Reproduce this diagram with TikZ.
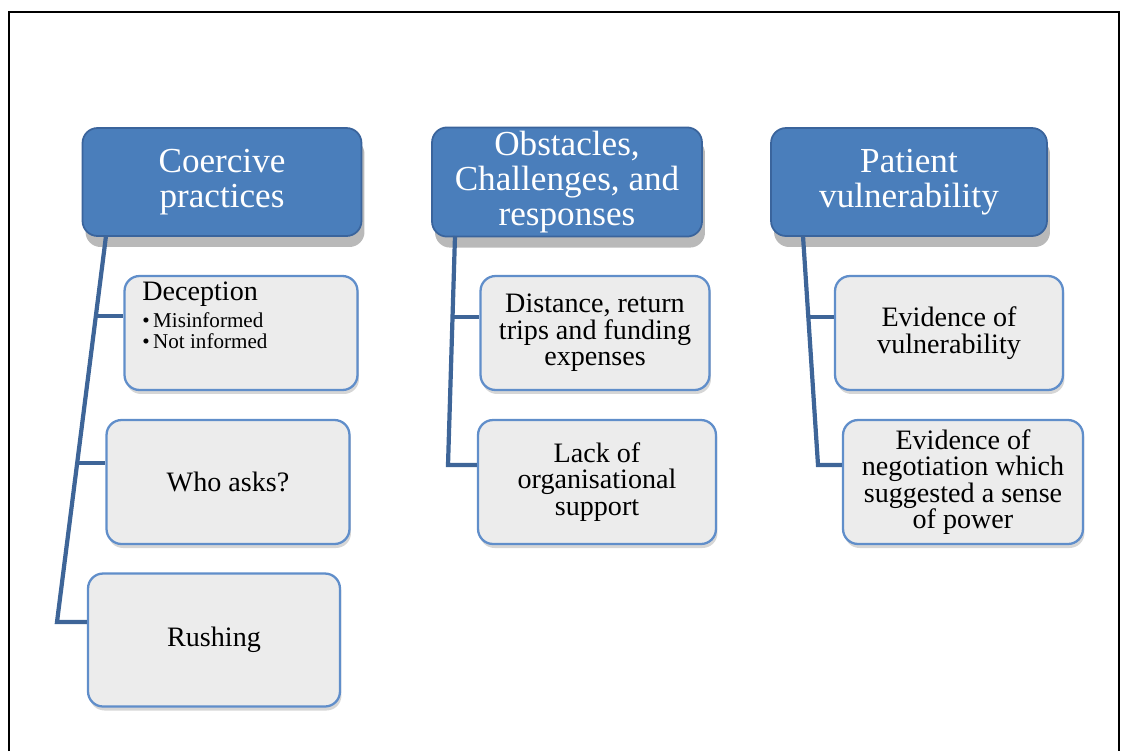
\documentclass[tikz,border=0pt]{standalone}
\usepackage{fontspec}
\setmainfont{Liberation Serif}
\usepackage{tikz}
\usetikzlibrary{calc}
\usetikzlibrary{shadows}
\definecolor{headblue}{RGB}{74,126,187}
\definecolor{headedge}{RGB}{58,100,156}
\definecolor{trunkblue}{RGB}{62,101,152}
\definecolor{itemedge}{RGB}{96,142,202}
\definecolor{itemfill}{RGB}{236,236,236}

\begin{document}
\begin{tikzpicture}[x=0.02cm, y=-0.02cm,
        headbox/.style={draw=headedge, line width=1pt, fill=headblue, rounded corners=0.3cm,
            text=white, align=center, minimum height=2.16cm, inner sep=2pt,
            font=\fontsize{20}{20}\selectfont,
            drop shadow={shadow xshift=0.06cm, shadow yshift=-0.22cm, fill=black!50, opacity=0.55}},
        itembox/.style={draw=itemedge, line width=1.3pt, fill=itemfill, rounded corners=0.3cm,
            align=center, inner sep=2pt, font=\fontsize{16}{15}\selectfont,
            drop shadow={shadow xshift=0.03cm, shadow yshift=-0.08cm, fill=black!40, opacity=0.4}},
        trunk/.style={draw=trunkblue, line width=2.4pt}]
        \useasboundingbox (0,0) rectangle (1121,751);

        % frame
        \draw[line width=1.2pt] (9,751) -- (9,12) -- (1119,12) -- (1119,751);

        \node[headbox, minimum width=5.58cm] (H1) at (222,182) {Coercive\\practices};
        \node[headbox, minimum width=5.4cm] (H2) at (567,182) {Obstacles,\\Challenges, and\\responses};
        \node[headbox, minimum width=5.52cm] (H3) at (909,182) {Patient\\vulnerability};

        \node[itembox, minimum width=4.66cm, minimum height=2.28cm] (C11) at (241,333) {};
        \node[itembox, minimum width=4.86cm, minimum height=2.48cm] (C12) at (228,482) {Who asks?};
        \node[itembox, minimum width=5.04cm, minimum height=2.66cm] (C13) at (214,640) {Rushing};

        \node[itembox, minimum width=4.58cm, minimum height=2.28cm] (C21) at (595,333) {Distance, return\\trips and funding\\expenses};
        \node[itembox, minimum width=4.76cm, minimum height=2.48cm] (C22) at (597,482) {Lack of\\organisational\\support};

        \node[itembox, minimum width=4.56cm, minimum height=2.28cm] (C31) at (949,333) {Evidence of\\vulnerability};
        \node[itembox, minimum width=4.8cm, minimum height=2.48cm] (C32) at (963,482) {Evidence of\\negotiation which\\suggested a sense\\of power};

        % text of the first item sits top left
        \node[anchor=north west, inner sep=0pt, align=left] (decT) at (142,282)
            {{\fontsize{16}{16}\selectfont Deception}\\[3pt]
             {\fontsize{12}{13}\selectfont \textbullet\,Misinformed}\\
             {\fontsize{12}{13}\selectfont \textbullet\,Not informed}};

        % trunks
        \coordinate (k1) at (106,236);
        \coordinate (j11) at (96,316);
        \coordinate (j12) at (77,463);
        \coordinate (j13) at (57,622);
        \draw[trunk] (k1) -- (j13) -- (j13 -| C13.west);
        \draw[trunk] (j11) -- (j11 -| C11.west);
        \draw[trunk] (j12) -- (j12 -| C12.west);

        \coordinate (k2) at (455,236);
        \coordinate (j21) at (452,317);
        \coordinate (j22) at (448,465);
        \draw[trunk] (k2) -- (j22) -- (j22 -| C22.west);
        \draw[trunk] (j21) -- (j21 -| C21.west);

        \coordinate (k3) at (803,236);
        \coordinate (j31) at (808,317);
        \coordinate (j32) at (818,465);
        \draw[trunk] (k3) -- (j32) -- (j32 -| C32.west);
        \draw[trunk] (j31) -- (j31 -| C31.west);
\end{tikzpicture}
\end{document}
